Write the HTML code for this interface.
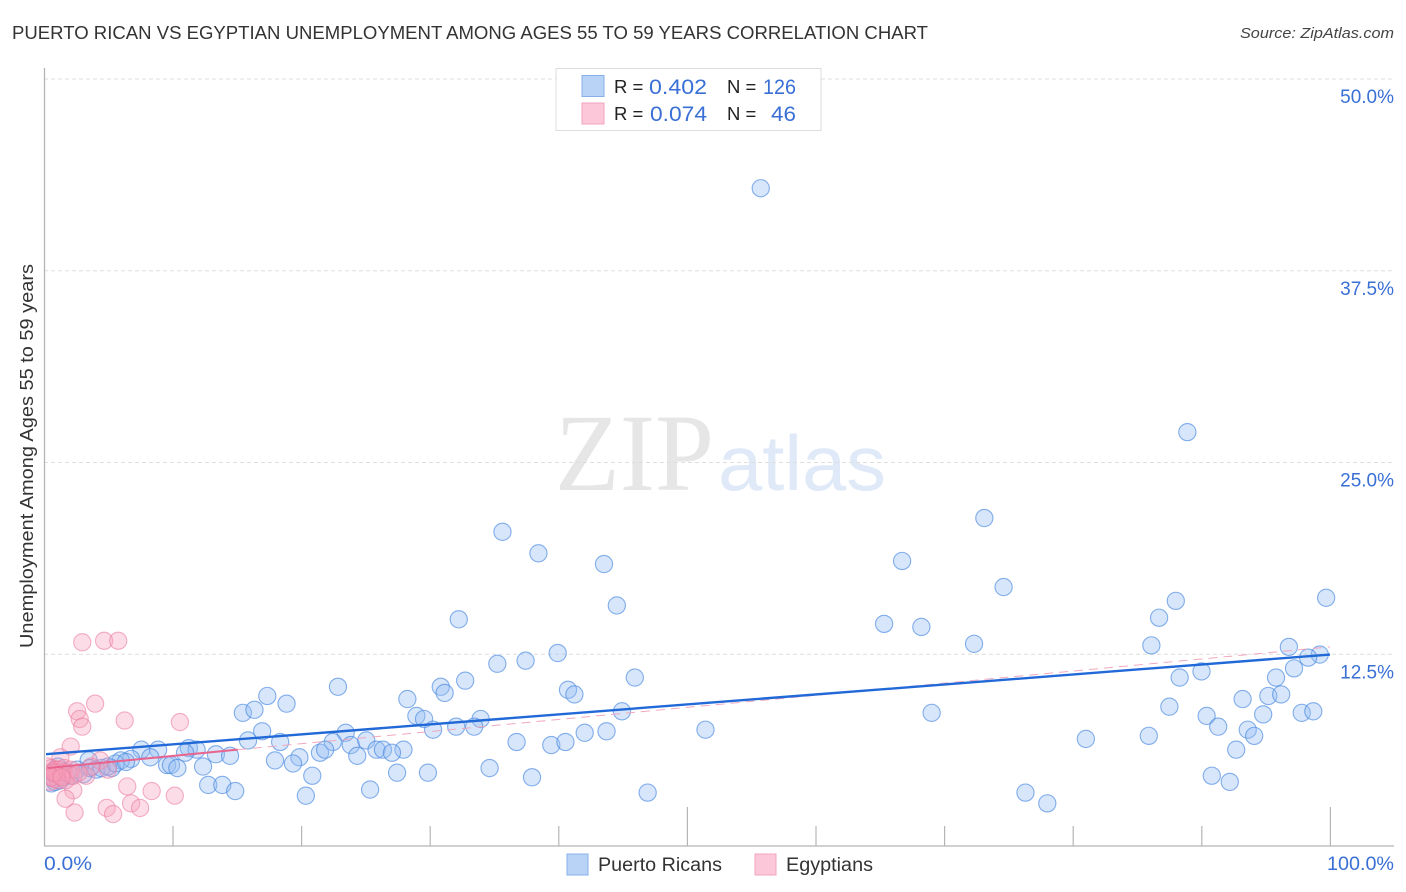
<!DOCTYPE html>
<html lang="en">
<head>
<meta charset="utf-8">
<title>Puerto Rican vs Egyptian Unemployment Among Ages 55 to 59 Years Correlation Chart</title>
<style>
html,body{margin:0;padding:0;background:#fff;width:1406px;height:892px;overflow:hidden}
svg{display:block;font-family:"Liberation Sans",sans-serif}
</style>
</head>
<body>
<svg id="chart" xmlns="http://www.w3.org/2000/svg" width="1406" height="892" viewBox="0 0 1406 892">
<defs><clipPath id="plot-clip"><rect x="46" y="60" width="1350" height="786"/></clipPath></defs>
<text x="12" y="39" font-size="18.5" fill="#333" textLength="916" lengthAdjust="spacingAndGlyphs">PUERTO RICAN VS EGYPTIAN UNEMPLOYMENT AMONG AGES 55 TO 59 YEARS CORRELATION CHART</text>
<text x="1394" y="38" font-size="15" font-style="italic" fill="#444" text-anchor="end" textLength="154" lengthAdjust="spacingAndGlyphs">Source: ZipAtlas.com</text>
<g>
<text x="555" y="490" font-family="'Liberation Serif',serif" font-size="110" fill="#e6e6e6" textLength="159" lengthAdjust="spacingAndGlyphs">ZIP</text>
<text x="718" y="490" font-size="78" fill="#dfe9f8" textLength="168" lengthAdjust="spacingAndGlyphs">atlas</text>
</g>
<g id="grid"></g>
<g id="axes"></g>
<g clip-path="url(#plot-clip)">
<g id="blue"></g>
<g id="pink"></g>
<g id="trends"></g>
</g>
<g id="ylabels"></g>
<text transform="translate(33,456) rotate(-90)" font-size="18" fill="#333" text-anchor="middle" textLength="384" lengthAdjust="spacingAndGlyphs">Unemployment Among Ages 55 to 59 years</text>
<text x="44" y="870" font-size="19" fill="#3a70d6" textLength="48" lengthAdjust="spacingAndGlyphs">0.0%</text>
<text x="1394" y="870" font-size="19" fill="#3a70d6" text-anchor="end" textLength="67" lengthAdjust="spacingAndGlyphs">100.0%</text>
<g>
<rect x="556" y="68.5" width="265" height="62" fill="#fff" stroke="#ddd"/>
<rect x="582" y="75.5" width="22" height="21" fill="#b9d3f7" stroke="#85b0ea"/>
<rect x="582" y="103" width="22" height="21" fill="#fcc8d9" stroke="#f2a3bd"/>
<text x="614" y="93" font-size="18.5" fill="#222">R =</text>
<text x="649" y="94" font-size="21" fill="#3a70d6" textLength="58" lengthAdjust="spacingAndGlyphs">0.402</text>
<text x="727" y="93" font-size="18.5" fill="#222">N =</text>
<text x="763" y="94" font-size="21" fill="#3a70d6" textLength="33" lengthAdjust="spacingAndGlyphs">126</text>
<text x="614" y="120" font-size="18.5" fill="#222">R =</text>
<text x="650" y="121" font-size="21" fill="#3a70d6" textLength="57" lengthAdjust="spacingAndGlyphs">0.074</text>
<text x="727" y="120" font-size="18.5" fill="#222">N =</text>
<text x="771" y="121" font-size="21" fill="#3a70d6" textLength="25" lengthAdjust="spacingAndGlyphs">46</text>
</g>
<g>
<rect x="567" y="854" width="21" height="21" fill="#b9d3f7" stroke="#85b0ea"/>
<text x="598" y="871" font-size="19" fill="#333" textLength="124" lengthAdjust="spacingAndGlyphs">Puerto Ricans</text>
<rect x="755" y="854" width="21" height="21" fill="#fcc8d9" stroke="#f2a3bd"/>
<text x="786" y="871" font-size="19" fill="#333" textLength="87" lengthAdjust="spacingAndGlyphs">Egyptians</text>
</g>
</svg>
<script>
const yTicks = [12.5, 25, 37.5, 50];
const yTickLabels = ['12.5%', '25.0%', '37.5%', '50.0%'];
const xTicks = [10, 20, 30, 40, 50, 60, 70, 80, 90, 100];
const blueX = [55.7,88.9,73.1,35.6,38.4,43.5,66.7,74.6,88.0,99.7,44.5,32.2,86.7,65.3,68.2,72.3,86.1,96.8,99.2,98.3,39.9,37.4,35.2,90.0,97.2,45.9,32.7,88.3,95.8,22.8,30.8,31.1,40.7,41.2,17.3,18.8,28.2,93.2,95.2,96.2,87.5,15.4,16.3,44.9,69.0,94.8,97.8,98.7,28.9,29.5,33.9,30.2,32.0,33.4,90.4,91.3,93.6,16.9,51.4,42.0,43.7,23.4,94.1,85.9,81.0,15.8,18.3,22.4,23.8,25.0,36.7,39.4,40.5,92.7,7.5,11.2,8.8,11.8,13.3,14.4,10.9,21.4,21.8,27.9,25.8,26.3,27.0,24.3,19.8,17.9,19.3,12.3,9.5,9.8,10.3,8.2,6.7,5.9,3.4,5.2,20.8,27.4,29.8,34.6,37.9,90.8,92.2,12.7,13.8,14.8,20.3,25.3,46.9,76.3,78.0,0.5,0.8,1.2,1.5,2.0,2.5,3.0,3.5,4.0,4.4,4.9,5.5,6.3,1.0,0.6];
const blueY = [42.9,27.0,21.4,20.5,19.1,18.4,18.6,16.9,16.0,16.2,15.7,14.8,14.9,14.5,14.3,13.2,13.1,13.0,12.5,12.3,12.6,12.1,11.9,11.4,11.6,11.0,10.8,11.0,11.0,10.4,10.4,10.0,10.2,9.9,9.8,9.3,9.6,9.6,9.8,9.9,9.1,8.7,8.9,8.8,8.7,8.6,8.7,8.8,8.5,8.3,8.3,7.6,7.8,7.8,8.5,7.8,7.6,7.5,7.6,7.4,7.5,7.4,7.2,7.2,7.0,6.9,6.8,6.8,6.6,6.9,6.8,6.6,6.8,6.3,6.3,6.4,6.3,6.3,6.0,5.9,6.1,6.1,6.3,6.3,6.3,6.3,6.1,5.9,5.8,5.6,5.4,5.2,5.3,5.3,5.1,5.8,5.7,5.6,5.6,5.1,4.6,4.8,4.8,5.1,4.5,4.6,4.2,4.0,4.0,3.6,3.3,3.7,3.5,3.5,2.8,4.1,4.2,4.3,4.9,4.6,5.0,4.7,5.1,5.0,5.1,5.2,5.4,5.5,5.2,4.8];
const pinkX = [2.9,4.6,5.7,3.9,2.5,2.7,2.9,6.2,10.5,2.0,6.4,2.2,1.6,8.3,10.1,2.3,4.8,5.3,6.7,7.4,1.2,4.3,4.9,3.2,0.2,0.3,0.4,0.5,0.6,0.7,0.8,0.9,1.0,1.1,1.2,1.4,1.5,1.6,1.8,2.0,2.2,3.6,0.5,0.7,1.3,2.6];
const pinkY = [13.3,13.4,13.4,9.3,8.8,8.3,7.8,8.2,8.1,6.5,3.9,3.65,3.1,3.6,3.3,2.2,2.5,2.1,2.8,2.5,5.8,5.6,5.0,4.6,5.2,4.6,4.2,5.1,4.9,4.4,5.0,4.7,4.3,5.0,4.6,4.8,5.1,4.3,4.8,5.0,4.6,5.2,4.5,4.8,4.5,4.8];
const blueTrendX = [0, 100];
const blueTrendY = [6.0, 12.5];
const pinkTrendX = [0.2, 15, 100];
const pinkTrendY = [5.1, 6.3, 13.0];

const NS = 'http://www.w3.org/2000/svg';
const sx = v => 45 + v * 12.85;
const sy = v => 846.3 - v * 15.34;
function mk(tag, parent, attrs) {
  const el = document.createElementNS(NS, tag);
  for (const k in attrs) el.setAttribute(k, attrs[k]);
  parent.appendChild(el);
  return el;
}
const grid = document.getElementById('grid');
const axes = document.getElementById('axes');
const ylabels = document.getElementById('ylabels');
yTicks.forEach((t, i) => {
  const l = mk('line', grid, {x1: 44, x2: 1394, y1: 846 - t * 15.34, y2: 846 - t * 15.34, stroke: '#dedede', 'stroke-width': 1, 'stroke-dasharray': '4 3'});
  
  
  const lb = mk('text', ylabels, {x: 1394, y: 846 - t * 15.34 + 24, 'font-size': 19, fill: '#3a70d6', 'text-anchor': 'end'});
  lb.textContent = yTickLabels[i];
  
  
});
const ya = mk('line', axes, {x1: 44.5, x2: 44.5, y1: 68, y2: 846, stroke: '#b5b5b5', 'stroke-width': 1.3});


const xa = mk('line', axes, {x1: 44, x2: 1394, y1: 846, y2: 846, stroke: '#b5b5b5', 'stroke-width': 1.3});


xTicks.forEach(t => {
  const major = t % 50 === 0;
  const tk = mk('line', axes, {x1: 44.4 + t * 12.86, x2: 44.4 + t * 12.86, y1: 846, y2: major ? 807 : 826, stroke: '#b5b5b5', 'stroke-width': 1.2});
  
  
});
const blue = document.getElementById('blue');
blueX.forEach((x, i) => {
  const c = mk('circle', blue, {cx: sx(x), cy: sy(blueY[i]), r: 8.6, fill: 'rgba(150,190,242,0.38)', stroke: 'rgba(70,135,225,0.65)', 'stroke-width': 1.1});
  
  
});
const pink = document.getElementById('pink');
pinkX.forEach((x, i) => {
  const c = mk('circle', pink, {cx: sx(x), cy: sy(pinkY[i]), r: 8.6, fill: 'rgba(248,160,188,0.36)', stroke: 'rgba(235,125,160,0.6)', 'stroke-width': 1.1});
  
  
});
const trends = document.getElementById('trends');
const ps = mk('line', trends, {x1: sx(pinkTrendX[0]), y1: sy(pinkTrendY[0]), x2: sx(pinkTrendX[1]), y2: sy(pinkTrendY[1]), stroke: '#e8638e', 'stroke-width': 2});


const pd = mk('line', trends, {x1: sx(pinkTrendX[1]), y1: sy(pinkTrendY[1]), x2: sx(pinkTrendX[2]), y2: sy(pinkTrendY[2]), stroke: '#f0a8be', 'stroke-width': 1, 'stroke-dasharray': '9 6'});


const bt = mk('line', trends, {x1: sx(blueTrendX[0]), y1: sy(blueTrendY[0]), x2: sx(blueTrendX[1]), y2: sy(blueTrendY[1]), stroke: '#2269d8', 'stroke-width': 2.4});


</script>
</body>
</html>
